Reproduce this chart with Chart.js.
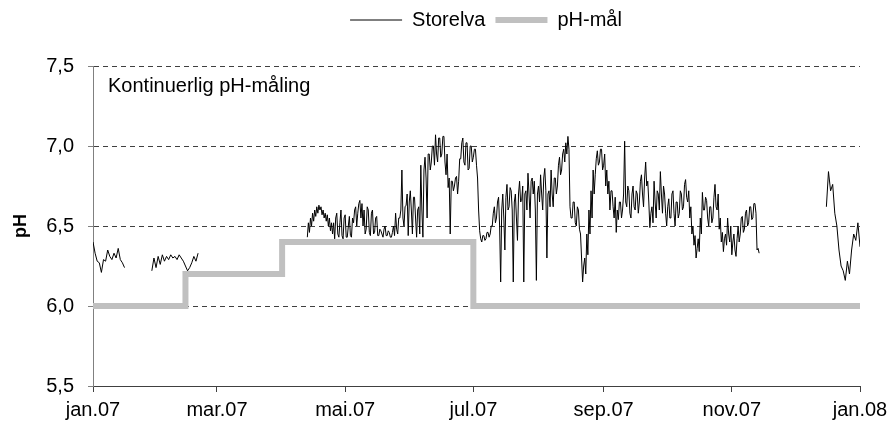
<!DOCTYPE html>
<html lang="no">

<head>
    <meta charset="UTF-8">
    <title>Kontinuerlig pH-måling Storelva</title>
    <script src="https://cdn.jsdelivr.net/npm/chart.js"></script>
    <style>
        body { margin: 0; background: #fff; }
    </style>
</head>

<body>
    <canvas id="phChart" width="890" height="429"></canvas>
    <script>
        // x = day of year 2007 (0 = 1 jan)
        const tickDays = [0, 59, 120, 181, 243, 304, 365];
        const tickLabels = ['jan.07', 'mar.07', 'mai.07', 'jul.07', 'sep.07', 'nov.07', 'jan.08'];

        // pH target, stepped (day, pH)
        const targetDays = [0, 44, 90, 181, 365];
        const targetPH = [6.0, 6.2, 6.4, 6.0, 6.0];

        // Storelva, four logging periods (start day, step in days, readings)
        const seg1Start = 0;
        const seg1 = [6.40, 6.33, 6.28, 6.27, 6.21, 6.29, 6.28, 6.35, 6.31, 6.29, 6.33, 6.30, 6.36, 6.29, 6.27, 6.24];
        const seg2Start = 28;
        const seg2 = [6.22, 6.30, 6.24, 6.31, 6.26, 6.32, 6.28, 6.31, 6.29, 6.32, 6.30, 6.31, 6.29, 6.32, 6.30, 6.28,
            6.25, 6.22, 6.24, 6.27, 6.31, 6.28, 6.33];
        // two readings a day
        const seg3Start = 102;
        const seg3 = [
            6.43, 6.52, 6.46, 6.55, 6.50, 6.58, 6.53, 6.60, 6.56, 6.62,
            6.58, 6.63, 6.60, 6.62, 6.57, 6.60, 6.55, 6.58, 6.53, 6.57,
            6.50, 6.55, 6.47, 6.52, 6.45, 6.52, 6.42, 6.55, 6.58, 6.45,
            6.43, 6.52, 6.60, 6.44, 6.42, 6.55, 6.57, 6.43, 6.43, 6.50,
            6.56, 6.44, 6.43, 6.55, 6.52, 6.60, 6.62, 6.50, 6.58, 6.64,
            6.66, 6.55, 6.64, 6.50, 6.60, 6.45, 6.48, 6.62, 6.60, 6.46,
            6.44, 6.58, 6.60, 6.45, 6.46, 6.55, 6.56, 6.44, 6.44, 6.48,
            6.47, 6.45, 6.43, 6.48, 6.50, 6.44, 6.44, 6.47, 6.46, 6.43,
            6.43, 6.46, 6.50, 6.44, 6.58, 6.48, 6.45, 6.55, 6.55, 6.60,
            6.85, 6.55, 6.50, 6.62, 6.63, 6.70, 6.44, 6.65, 6.72, 6.60,
            6.45, 6.68, 6.68, 6.55, 6.43, 6.60, 6.62, 6.45, 6.88, 6.60,
            6.43, 6.85, 6.93, 6.80, 6.55, 6.95, 6.95, 6.85, 6.90, 7.00,
            7.00, 6.88, 7.07, 6.95, 6.90, 7.05, 7.05, 6.93, 6.95, 7.06,
            7.06, 6.90, 6.82, 6.95, 6.74, 6.80, 6.45, 6.78, 6.78, 6.72,
            6.75, 6.80, 6.81, 6.70, 6.78, 6.92, 6.92, 7.02, 7.05, 6.90,
            6.88, 7.02, 7.02, 6.85, 6.86, 7.00, 7.00, 6.90, 6.93, 6.98,
            6.98, 6.88, 6.80, 6.60, 6.47, 6.42, 6.40, 6.44, 6.44, 6.41,
            6.42, 6.46, 6.46, 6.43, 6.45, 6.50, 6.50, 6.58, 6.62, 6.52,
            6.55, 6.65, 6.68, 6.50, 6.15, 6.60, 6.70, 6.55, 6.35, 6.68,
            6.76, 6.60, 6.62, 6.74, 6.72, 6.60, 6.15, 6.65, 6.70, 6.55,
            6.41, 6.70, 6.78, 6.65, 6.66, 6.75, 6.15, 6.70, 6.72, 6.60,
            6.83, 6.70, 6.55, 6.78, 6.80, 6.70, 6.78, 6.60, 6.16, 6.70,
            6.75, 6.65, 6.82, 6.70, 6.60, 6.80, 6.86, 6.72, 6.30, 6.70,
            6.72, 6.62, 6.85, 6.70, 6.62, 6.80, 6.80, 6.70, 6.75, 6.88,
            6.93, 6.82, 6.85, 6.95, 6.98, 6.90, 7.02, 6.95, 7.06, 6.98,
            6.62, 6.55, 6.55, 6.65, 6.65, 6.52, 6.50, 6.62, 6.60, 6.48,
            6.45, 6.30, 6.15, 6.25, 6.30, 6.20, 6.45, 6.32, 6.60, 6.45,
            6.72, 6.55, 6.85, 6.70, 6.82, 6.92, 6.97, 6.88, 6.90, 6.98,
            6.98, 6.85, 6.88, 6.95, 6.75, 6.85, 6.70, 6.78, 6.60, 6.72,
            6.72, 6.62, 6.55, 6.68, 6.46, 6.60, 6.54, 6.65, 6.65, 6.55,
            6.60, 6.70, 7.03, 6.65, 6.62, 6.75, 6.72, 6.58, 6.55, 6.70,
            6.75, 6.62, 6.60, 6.72, 6.70, 6.58, 6.65, 6.78, 6.82, 6.70,
            6.62, 6.80, 6.90, 6.75, 6.78, 6.65, 6.49, 6.58, 6.62, 6.52,
            6.78, 6.65, 6.55, 6.72, 6.70, 6.60, 6.84, 6.70, 6.58, 6.75,
            6.70, 6.58, 6.50, 6.62, 6.67, 6.55, 6.55, 6.70, 6.72, 6.58,
            6.50, 6.65, 6.65, 6.55, 6.58, 6.72, 6.70, 6.60, 6.62, 6.76,
            6.79, 6.68, 6.65, 6.72, 6.55, 6.62, 6.45, 6.50, 6.38, 6.44,
            6.30, 6.36, 6.42, 6.34, 6.55, 6.45, 6.71, 6.60, 6.60, 6.68,
            6.66, 6.55, 6.50, 6.62, 6.62, 6.52, 6.55, 6.68, 6.76, 6.62,
            6.60, 6.70, 6.48, 6.55, 6.40, 6.46, 6.34, 6.42, 6.45, 6.38,
            6.55, 6.45, 6.40, 6.50, 6.32, 6.40, 6.45, 6.35, 6.31, 6.42,
            6.50, 6.40, 6.45, 6.55, 6.56, 6.46, 6.48, 6.58, 6.60, 6.50,
            6.52, 6.62, 6.62, 6.54, 6.55, 6.64, 6.64, 6.58, 6.35, 6.36,
            6.33
        ];
        const seg4Start = 349;
        const seg4 = [6.62, 6.84, 6.72, 6.76, 6.58, 6.50, 6.35, 6.25, 6.22, 6.16, 6.28, 6.20, 6.35, 6.45, 6.41, 6.52, 6.37];

        // join the periods, with a null between them so the line breaks
        function toPoints(start, step, values) {
            return values.map((v, i) => ({ x: start + i * step, y: v }));
        }
        const gap = x => ({ x: x, y: null });
        const storelvaPoints = [
            ...toPoints(seg1Start, 1, seg1), gap(20),
            ...toPoints(seg2Start, 1, seg2), gap(60),
            ...toPoints(seg3Start, 0.5, seg3), gap(330),
            ...toPoints(seg4Start, 1, seg4)
        ];
        const targetPoints = targetDays.map((d, i) => ({ x: d, y: targetPH[i] }));

        const FONT = 'Liberation Sans, Arial, sans-serif';

        // note text inside the plot area
        const notePlugin = {
            id: 'note',
            afterDraw(chart) {
                const c = chart.ctx;
                c.save();
                c.font = '20px ' + FONT;
                c.fillStyle = '#000';
                c.textBaseline = 'middle';
                c.fillText('Kontinuerlig pH-måling', chart.chartArea.left + 15, 86);
                c.restore();
            }
        };

        // legend: fixed height above the plot, centred over x = 491
        const legendPlace = {
            id: 'legendPlace',
            beforeInit(chart) {
                const fit = chart.legend.fit;
                chart.legend.fit = function () {
                    fit.call(this);
                    this.height = 66;
                };
            },
            afterLayout(chart) {
                const lg = chart.legend;
                const d = 491 - (lg.left + lg.right + 10) / 2;
                lg.left += d;
                lg.right += d;
            }
        };

        const ctx = document.getElementById('phChart').getContext('2d');
        const phChart = new Chart(ctx, {
            type: 'line',
            data: {
                datasets: [
                    {
                        label: 'Storelva',
                        data: storelvaPoints,
                        borderColor: '#000',
                        backgroundColor: '#000',
                        borderWidth: 1,
                        pointRadius: 0,
                        spanGaps: false,
                        order: 1
                    },
                    {
                        label: 'pH-mål',
                        data: targetPoints,
                        borderColor: '#c0c0c0',
                        backgroundColor: '#c0c0c0',
                        borderWidth: 6,
                        borderCapStyle: 'round',
                        pointRadius: 0,
                        stepped: true,
                        order: 2
                    }
                ]
            },
            options: {
                responsive: false,
                animation: false,
                layout: { padding: { left: 10, right: 30, top: 0, bottom: 0 } },
                plugins: {
                    legend: {
                        position: 'top',
                        labels: {
                            usePointStyle: true,
                            pointStyle: 'line',
                            pointStyleWidth: 52,
                            boxHeight: 10,
                            color: '#000',
                            font: { family: FONT, size: 20 },
                            padding: 10
                        }
                    },
                    tooltip: { enabled: false }
                },
                scales: {
                    x: {
                        type: 'linear',
                        min: 0,
                        max: 365,
                        afterBuildTicks: scale => {
                            scale.ticks = tickDays.map(v => ({ value: v }));
                        },
                        afterFit: scale => {
                            scale.height = 43;
                            scale.paddingLeft = 0;
                            scale.paddingRight = 0;
                        },
                        ticks: {
                            autoSkip: false,
                            maxRotation: 0,
                            color: '#000',
                            font: { family: FONT, size: 20 },
                            padding: 6,
                            callback: value => tickLabels[tickDays.indexOf(value)]
                        },
                        grid: { drawOnChartArea: false, tickLength: 6, color: '#404040' },
                        border: { color: '#404040', width: 1 }
                    },
                    y: {
                        min: 5.5,
                        max: 7.5,
                        afterFit: scale => { scale.width = 83; },
                        ticks: {
                            stepSize: 0.5,
                            color: '#000',
                            font: { family: FONT, size: 20 },
                            padding: 14,
                            callback: value => value.toFixed(1).replace('.', ',')
                        },
                        title: {
                            display: true,
                            text: 'pH',
                            color: '#000',
                            font: { family: FONT, size: 18, weight: 'bold' },
                            padding: { top: 0, bottom: 0 }
                        },
                        grid: {
                            color: ctx => ctx.tick && ctx.tick.value === 5.5 ? 'rgba(0,0,0,0)' : '#404040',
                            tickLength: 5,
                            tickColor: '#808080'
                        },
                        border: { color: '#808080', width: 1, dash: [5, 4] }
                    }
                }
            },
            plugins: [notePlugin, legendPlace]
        });
    </script>
</body>

</html>
